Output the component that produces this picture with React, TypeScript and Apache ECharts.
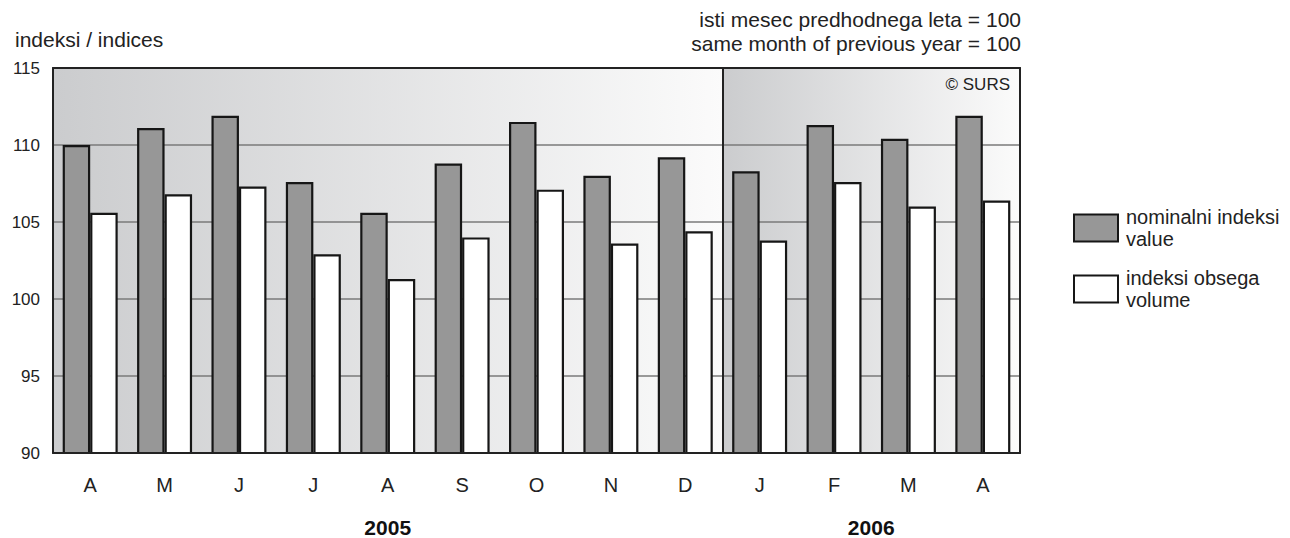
import React, { useEffect, useRef } from "react";
import * as echarts from "echarts";

const months = ["A", "M", "J", "J", "A", "S", "O", "N", "D", "J", "F", "M", "A"];
const nominal = [110.0, 111.1, 111.9, 107.6, 105.6, 108.8, 111.5, 108.0, 109.2, 108.3, 111.3, 110.4, 111.9];
const volume = [105.6, 106.8, 107.3, 102.9, 101.3, 104.0, 107.1, 103.6, 104.4, 103.8, 107.6, 106.0, 106.4];
const years = ["2005", "2006"];
const panelBounds = [0, 9, 13];
const seriesNames = ["nominalni indeksi\nvalue", "indeksi obsega\nvolume"];
const yMin = 90;
const yMax = 115;
const yStep = 5;

const FONT = "Liberation Sans, Arial, Helvetica, sans-serif";
const GRID = { left: 53, top: 68, width: 967, height: 385 };

export default function App() {
  const ref = useRef<HTMLDivElement>(null);
  useEffect(() => {
    if (!ref.current) return;
    const chart = echarts.init(ref.current, null, { renderer: "svg" });
    const catW = GRID.width / months.length;
    const grad = () =>
      new echarts.graphic.LinearGradient(0, 0, 1, 0, [
        { offset: 0, color: "#cbccce" },
        { offset: 1, color: "#fbfbfb" },
      ]);
    const yearCenters = [
      (panelBounds[0] + panelBounds[1]) / 2,
      (panelBounds[1] + panelBounds[2]) / 2,
    ];
    const option: any = {
      animation: false,
      textStyle: { fontFamily: FONT },
      grid: { ...GRID, containLabel: false },
      legend: {
        data: seriesNames,
        orient: "vertical",
        left: 1068,
        top: 201,
        itemWidth: 44,
        itemHeight: 27,
        itemGap: 17,
        icon: "rect",
        textStyle: { fontSize: 20, lineHeight: 22, color: "#222", fontFamily: FONT, padding: [0, 0, 0, 3] },
      },
      xAxis: [
        {
          type: "category",
          data: months,
          position: "bottom",
          z: 3,
          axisLine: { show: true, lineStyle: { color: "#222", width: 2 } },
          axisTick: { show: false },
          axisLabel: { fontSize: 20, color: "#222", margin: 22, fontFamily: FONT },
          splitLine: { show: false },
        },
        {
          type: "value",
          min: panelBounds[0],
          max: panelBounds[panelBounds.length - 1],
          position: "top",
          z: 3,
          axisLine: { show: true, onZero: false, lineStyle: { color: "#222", width: 2 } },
          axisTick: { show: false },
          axisLabel: { show: false },
          splitLine: { show: false },
        },
      ],
      yAxis: [
        {
          type: "value",
          min: yMin,
          max: yMax,
          interval: yStep,
          z: 1,
          axisLine: { show: true, lineStyle: { color: "#222", width: 2 } },
          axisTick: { show: false },
          axisLabel: { fontSize: 17, color: "#222", margin: 13, fontFamily: FONT },
          splitLine: { show: true, lineStyle: { color: "#7a7a7a", width: 1.5 } },
        },
        {
          type: "value",
          min: yMin,
          max: yMax,
          position: "right",
          z: 3,
          axisLine: { show: true, lineStyle: { color: "#222", width: 2 } },
          axisTick: { show: false },
          axisLabel: { show: false },
          splitLine: { show: false },
        },
      ],
      series: [
        {
          type: "line",
          name: "bg",
          xAxisIndex: 1,
          yAxisIndex: 0,
          z: 0,
          data: [],
          silent: true,
          markArea: {
            silent: true,
            z: 0,
            data: panelBounds.slice(0, -1).map((b, i) => [
              { xAxis: b, itemStyle: { color: grad() } },
              { xAxis: panelBounds[i + 1] },
            ]),
          },
        },
        {
          type: "line",
          name: "divider",
          xAxisIndex: 1,
          yAxisIndex: 0,
          z: 3,
          data: [],
          silent: true,
          markLine: {
            silent: true,
            symbol: ["none", "none"],
            label: { show: false },
            lineStyle: { color: "#222", width: 2, type: "solid" },
            data: panelBounds.slice(1, -1).map((b) => ({ xAxis: b })),
          },
        },
        {
          type: "bar",
          name: seriesNames[0],
          data: nominal,
          barWidth: 27.5,
          barGap: "0%",
          z: 2,
          itemStyle: { color: "#979797", borderColor: "#161616", borderWidth: 2.2 },
        },
        {
          type: "bar",
          name: seriesNames[1],
          data: volume,
          barWidth: 27.5,
          barGap: "0%",
          z: 2,
          itemStyle: { color: "#ffffff", borderColor: "#161616", borderWidth: 2.2 },
        },
      ],
      graphic: [
        {
          type: "text",
          left: 15,
          top: 29,
          style: { text: "indeksi / indices", fontSize: 21, fill: "#222", fontFamily: FONT },
        },
        {
          type: "text",
          right: 1290 - 1021,
          top: 9,
          style: { text: "isti mesec predhodnega leta = 100", fontSize: 21, fill: "#222", fontFamily: FONT },
        },
        {
          type: "text",
          right: 1290 - 1021,
          top: 33,
          style: { text: "same month of previous year = 100", fontSize: 21, fill: "#222", fontFamily: FONT },
        },
        {
          type: "text",
          right: 1290 - 1010,
          top: 76,
          z: 10,
          style: { text: "© SURS", fontSize: 17, fill: "#222", fontFamily: FONT },
        },
        ...years.map((y, i) => ({
          type: "text",
          x: GRID.left + catW * yearCenters[i],
          y: 527,
          style: {
            text: y,
            fontSize: 21,
            fontWeight: "bold",
            fill: "#111",
            fontFamily: FONT,
            textAlign: "center",
            textVerticalAlign: "middle",
          },
        })),
      ],
    };
    chart.setOption(option);
    return () => chart.dispose();
  }, []);
  return (
    <div
      ref={ref}
      style={{ position: "fixed", left: 0, top: 0, width: 1290, height: 538, background: "#fff" }}
    />
  );
}
